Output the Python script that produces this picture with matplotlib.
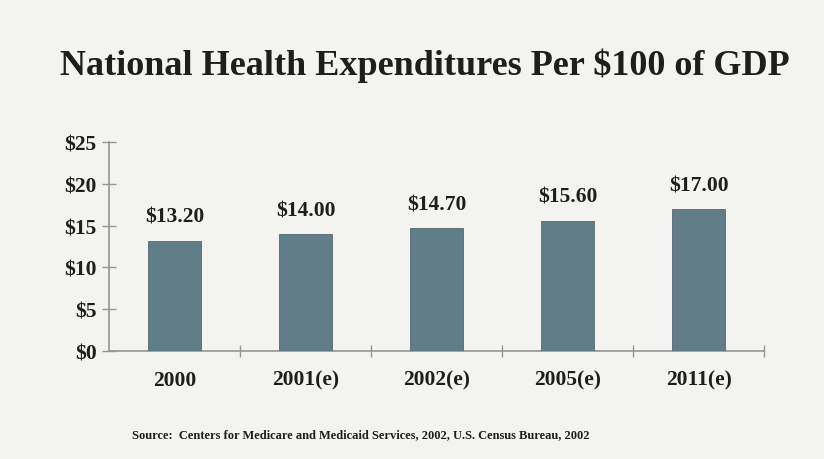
import matplotlib
matplotlib.use("Agg")
import matplotlib.pyplot as plt
from matplotlib.ticker import FixedLocator, NullFormatter

categories = ["2000", "2001(e)", "2002(e)", "2005(e)", "2011(e)"]
values = [13.20, 14.00, 14.70, 15.60, 17.00]
value_labels = ["$13.20", "$14.00", "$14.70", "$15.60", "$17.00"]
y_ticks = [0, 5, 10, 15, 20, 25]
y_tick_labels = ["$0", "$5", "$10", "$15", "$20", "$25"]

bg = "#f3f3ef"
bar_color = "#617d88"
axis_color = "#959595"
text_color = "#1e1e1e"
serif = ["Liberation Serif", "DejaVu Serif"]

fig = plt.figure(figsize=(8.24, 4.6), dpi=100, facecolor=bg)
ax = fig.add_axes([0.1323, 0.2348, 0.795, 0.4542], facecolor=bg)

x = list(range(len(categories)))
ax.bar(x, values, width=0.40, color=bar_color, edgecolor="#54686f", linewidth=0.6, zorder=3)

for xi, v, lab in zip(x, values, value_labels):
    ax.annotate(lab, (xi, v), xytext=(0, 10), textcoords="offset points",
                ha="center", va="bottom", fontsize=15.5, fontweight="bold",
                family=serif, color=text_color)

ax.set_xlim(-0.5, len(categories) - 0.5)
ax.set_ylim(0, 25)

ax.set_yticks(y_ticks)
ax.set_yticklabels(y_tick_labels, family=serif, fontsize=15.5, fontweight="bold", color=text_color)
ax.tick_params(axis="y", direction="inout", length=10, width=1, color=axis_color, pad=4)

# category labels at the centres, tick marks between categories
ax.set_xticks(x)
ax.set_xticklabels(categories, family=serif, fontsize=15.5, fontweight="bold", color=text_color)
ax.tick_params(axis="x", which="major", length=0, pad=13.5)
ax.xaxis.set_minor_locator(FixedLocator([i + 0.5 for i in x]))
ax.xaxis.set_minor_formatter(NullFormatter())
ax.tick_params(axis="x", which="minor", direction="inout", length=9, width=1, color=axis_color)

for side in ("top", "right"):
    ax.spines[side].set_visible(False)
for side in ("left", "bottom"):
    ax.spines[side].set_color(axis_color)
    ax.spines[side].set_linewidth(1.2)

fig.text(425 / 824, 1 - 66 / 460, "National Health Expenditures Per $100 of GDP", ha="center", va="center",
         fontsize=26, fontweight="bold", family=serif, color=text_color)
fig.text(361 / 824, 1 - 435 / 460,
         "Source:  Centers for Medicare and Medicaid Services, 2002, U.S. Census Bureau, 2002",
         ha="center", va="center", fontsize=9, fontweight="bold", family=serif, color=text_color)

fig.savefig("out.png", dpi=100, facecolor=bg)
